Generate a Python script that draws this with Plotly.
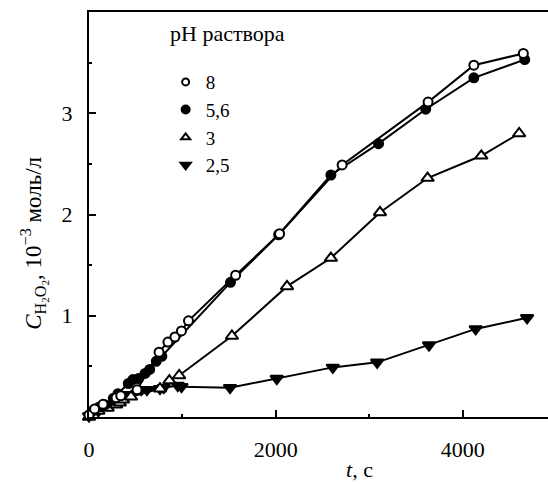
import plotly.graph_objects as go

# pH 8 (open circles)
t_ph8 = [0, 60, 150, 290, 340, 515, 750, 845, 920, 990, 1065, 1570, 2040, 2710, 3630, 4120, 4650]
c_ph8 = [0.02, 0.08, 0.125, 0.19, 0.21, 0.27, 0.64, 0.74, 0.79, 0.85, 0.95, 1.40, 1.81, 2.49, 3.11, 3.475, 3.59]

# pH 5,6 (filled circles)
t_ph56 = [40, 110, 170, 260, 310, 420, 470, 530, 600, 650, 720, 780, 1515, 2030, 2590, 3100, 3605, 4120, 4665]
c_ph56 = [0.06, 0.10, 0.12, 0.185, 0.23, 0.33, 0.37, 0.38, 0.43, 0.47, 0.55, 0.60, 1.33, 1.80, 2.39, 2.70, 3.04, 3.35, 3.53]

# pH 3 (open triangles)
t_ph3 = [0, 100, 200, 290, 330, 365, 450, 760, 860, 965, 1530, 2120, 2590, 3115, 3625, 4200, 4605]
c_ph3 = [0.0, 0.06, 0.09, 0.12, 0.14, 0.17, 0.20, 0.28, 0.36, 0.41, 0.80, 1.29, 1.57, 2.02, 2.36, 2.58, 2.80]

# pH 2,5 (filled down triangles)
t_ph25 = [0, 100, 200, 300, 420, 560, 620, 760, 800, 950, 990, 1510, 2010, 2610, 3085, 3640, 4140, 4690]
c_ph25 = [0.01, 0.06, 0.12, 0.17, 0.22, 0.27, 0.27, 0.28, 0.29, 0.31, 0.30, 0.29, 0.38, 0.49, 0.54, 0.71, 0.87, 0.98]

legend_title = "pH раствора"
legend_labels = ["8", "5,6", "3", "2,5"]
x_tickvals = [0, 2000, 4000]
y_tickvals = [1, 2, 3]

FONT = "'Liberation Serif', 'DejaVu Serif', serif"
BLACK = "black"

fig = go.Figure()

def add_series(x, y, symbol, fill, size):
    fig.add_trace(go.Scatter(
        x=x, y=y, mode="lines+markers", showlegend=False, cliponaxis=False,
        line=dict(color=BLACK, width=2),
        marker=dict(symbol=symbol, size=size, color=fill, line=dict(color=BLACK, width=2)),
    ))

add_series(t_ph25, c_ph25, "triangle-down", BLACK, 11)
add_series(t_ph3, c_ph3, "triangle-up", "white", 11)
add_series(t_ph56, c_ph56, "circle", BLACK, 9)
add_series(t_ph8, c_ph8, "circle", "white", 9)

# legend-only entries (marker only, as in the reference)
leg_specs = [("circle", "white", 7), ("circle", BLACK, 8), ("triangle-up", "white", 8), ("triangle-down", BLACK, 9)]
for lab, (sym, fill, sz) in zip(legend_labels, leg_specs):
    fig.add_trace(go.Scatter(
        x=[None], y=[None], mode="markers", name=lab,
        marker=dict(symbol=sym, size=sz, color=fill, line=dict(color=BLACK, width=2)),
    ))

fig.update_layout(
    width=548, height=484,
    margin=dict(l=89, r=0, t=12, b=67),
    paper_bgcolor="white", plot_bgcolor="white",
    font=dict(family=FONT, size=22, color=BLACK),
    showlegend=True,
    legend=dict(
        x=0.167, y=0.874, xanchor="left", yanchor="top",
        bgcolor="rgba(0,0,0,0)", borderwidth=0,
        font=dict(family=FONT, size=19, color=BLACK),
        itemsizing="trace",
    ),
    xaxis=dict(
        range=[0, 4914], showgrid=False, zeroline=False,
        showline=True, linecolor=BLACK, linewidth=2, mirror=True,
        tickvals=x_tickvals, ticktext=[str(v) for v in x_tickvals],
        ticks="inside", ticklen=7, tickwidth=2, tickcolor=BLACK,
        ticklabelstandoff=12,
        minor=dict(dtick=1000, tick0=0, ticks="inside", ticklen=3, tickwidth=2, tickcolor=BLACK),
        tickfont=dict(family=FONT, size=22, color=BLACK),
    ),
    yaxis=dict(
        range=[0, 4], showgrid=False, zeroline=False,
        showline=True, linecolor=BLACK, linewidth=2, mirror=False,
        tickvals=y_tickvals, ticktext=[str(v) for v in y_tickvals],
        ticks="inside", ticklen=7, tickwidth=2, tickcolor=BLACK,
        ticklabelstandoff=10,
        minor=dict(dtick=0.5, tick0=0, ticks="inside", ticklen=3, tickwidth=2, tickcolor=BLACK),
        tickfont=dict(family=FONT, size=22, color=BLACK),
    ),
    annotations=[
        dict(text=legend_title, xref="paper", yref="paper", x=0.172, y=0.947,
             xanchor="left", yanchor="middle", showarrow=False,
             font=dict(family=FONT, size=22, color=BLACK)),
        dict(text="<i>t</i>, с", xref="paper", yref="paper", x=0.59, y=-0.13,
             xanchor="center", yanchor="middle", showarrow=False,
             font=dict(family=FONT, size=22, color=BLACK)),
        dict(text="<i>C</i><sub>H<sub>2</sub>O<sub>2</sub></sub>, 10<sup>−3</sup> моль/л",
             xref="paper", yref="paper", x=-0.12, y=0.43, textangle=-90,
             xanchor="center", yanchor="middle", showarrow=False,
             font=dict(family=FONT, size=23, color=BLACK)),
    ],
)

fig.write_html("out.html")
